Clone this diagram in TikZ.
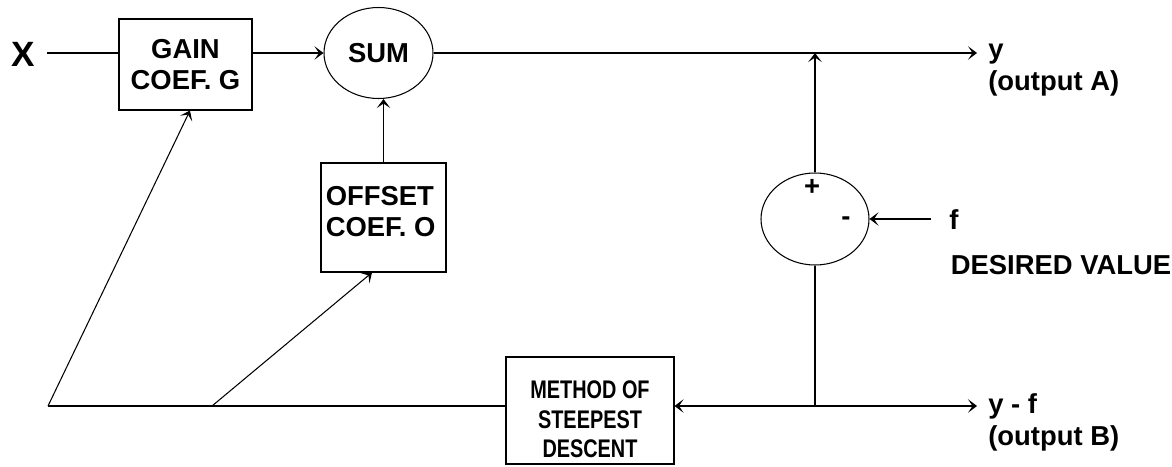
\documentclass[tikz,border=0pt]{standalone}
\usepackage{fontspec}
\setmainfont{Liberation Sans}
\newfontfamily\narrowfont[FakeStretch=0.78]{Liberation Sans}
\usetikzlibrary{shapes.geometric, arrows.meta, positioning}

\begin{document}
\begin{tikzpicture}[
  font=\fontsize{15.6}{18.1}\selectfont\bfseries,
  fdline/.style={draw=black, line width=0.6pt},
  fdarrow/.style={fdline, -{Stealth[length=0.18cm, width=0.27cm, inset=0.09cm]}},
  fdbox/.style={draw=black, fill=white, line width=0.6pt, align=center, inner sep=2pt},
  fdoval/.style={ellipse, draw=black, line width=0.6pt, inner sep=0pt},
  lab/.style={inner sep=0pt}
]
\useasboundingbox (0,0) rectangle (23.44,9.32);

%--------------------------------------------------------------
% Blocks
%--------------------------------------------------------------
\node[fdbox, minimum width=2.66cm, minimum height=1.82cm] (gain) at (3.71,8.03) {GAIN\\ COEF. G};
\node[fdoval, minimum width=2.18cm, minimum height=1.82cm] (sum) at (7.57,8.26) {SUM};
\node[fdbox, minimum width=2.50cm, minimum height=2.18cm] (offset) at (7.67,4.97) {};
\node[lab, align=left, anchor=west] (offtext) at ([xshift=0.10cm, yshift=0.12cm]offset.west)
  {OFFSET\\ COEF. O};
\node[fdoval, minimum width=2.16cm, minimum height=1.84cm] (diff) at (16.30,4.94) {};
\node[fdbox, minimum width=3.36cm, minimum height=2.14cm] (sd) at (11.80,1.11) {};
\node[lab, align=center, font=\narrowfont\fontsize{14.5}{16.9}\selectfont\bfseries] (sdtext) at (11.80,0.93)
  {METHOD OF\\ STEEPEST\\ DESCENT};

%--------------------------------------------------------------
% Labels and free ends
%--------------------------------------------------------------
\node[lab, font=\fontsize{20}{22}\selectfont\bfseries] (xlab) at (0.47,8.24) {X};
\node[lab] (plus) at (16.24,5.57) {+};
\node[lab] (minus) at (16.92,4.90) {-};
\node[lab] (fval) at (19.08,4.92) {f};
\node[lab] (desired) at (21.22,4.02) {DESIRED VALUE};
\node[lab, anchor=north west, align=left] (labA) at (19.76,8.44) {y\\ (output A)};
\node[lab, anchor=north west, align=left] (labB) at (19.76,1.46) {y - f\\ (output B)};

\coordinate (xstart) at (0.94,8.26);
\coordinate (fstart) at (18.62,4.94);
\coordinate (outA) at (19.54,8.26);
\coordinate (outB) at (19.54,1.20);
\coordinate (corner) at (0.96,1.20);
\coordinate (branch) at (4.24,1.20);
\coordinate (junc) at (diff.south |- corner);

%--------------------------------------------------------------
% Forward path
%--------------------------------------------------------------
\draw[fdline] (xstart) -- (xstart -| gain.west);
\draw[fdarrow] (gain.east |- sum.west) -- (sum.west);
\draw[fdarrow] (sum.east) -- (outA);
\draw[fdarrow] (offset.north) -- (offset.north |- sum.south);

%--------------------------------------------------------------
% Error and feedback path
%--------------------------------------------------------------
\draw[fdarrow] (diff.north) -- (diff.north |- outA);
\draw[fdarrow] (fstart) -- (fstart -| diff.east);
\draw[fdline] (diff.south) -- (junc);
\draw[fdarrow] (junc) -- (outB);
\draw[fdarrow] (junc) -- (junc -| sd.east);
\draw[fdline] (corner -| sd.west) -- (corner);
\draw[fdarrow] (corner) -- ([xshift=0.09cm]gain.south);
\draw[fdarrow] (branch) -- ([xshift=-0.23cm]offset.south);

\end{tikzpicture}
\end{document}
